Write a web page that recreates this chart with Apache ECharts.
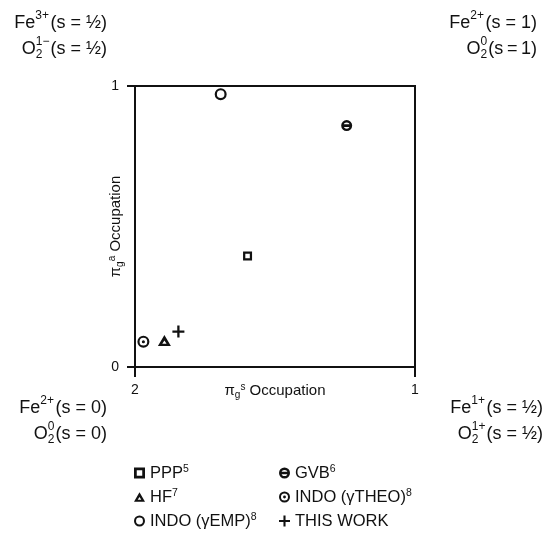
<!DOCTYPE html>
<html>
<head>
<meta charset="utf-8">
<script src="https://cdn.jsdelivr.net/npm/echarts@6/dist/echarts.min.js"></script>
<style>html,body{margin:0;padding:0;background:#fff}#c{width:545px;height:533px}</style>
</head>
<body>
<div id="c"></div>
<script>
// ---- data ----
const methods = ['PPP', 'GVB', 'HF', 'INDO (γTHEO)', 'INDO (γEMP)', 'THIS WORK'];
const refNums = ['5', '6', '7', '8', '8', ''];
const piS = [1.598, 1.244, 1.895, 1.970, 1.694, 1.845];   // πg s occupation (x)
const piA = [0.395, 0.859, 0.094, 0.090, 0.971, 0.126];   // πg a occupation (y)
const xTickValues = [2, 1];
const yTickValues = [0, 1];

// ---- styles ----
const FONT = '"Liberation Sans", Arial, Helvetica, sans-serif';
const INK = '#111';
const symbolPaths = {
  'PPP': 'path://M-10,-10L10,-10L10,10L-10,10Z M-5,-5L-5,5L5,5L5,-5Z',
  'GVB': 'path://M0,-10A10,10 0 1,1 0,10A10,10 0 1,1 0,-10Z M0,-5.6A5.6,5.6 0 1,0 0,5.6A5.6,5.6 0 1,0 0,-5.6Z M-5.8,-2.4L5.8,-2.4L5.8,2.4L-5.8,2.4Z',
  'HF': 'path://M0,-10L11,9L-11,9Z M0,-0.5L-3.6,5L3.6,5Z',
  'INDO (γTHEO)': 'path://M0,-10A10,10 0 1,1 0,10A10,10 0 1,1 0,-10Z M0,-6.4A6.4,6.4 0 1,0 0,6.4A6.4,6.4 0 1,0 0,-6.4Z M0,-2.6A2.6,2.6 0 1,1 0,2.6A2.6,2.6 0 1,1 0,-2.6Z',
  'INDO (γEMP)': 'path://M0,-10A10,10 0 1,1 0,10A10,10 0 1,1 0,-10Z M0,-6.3A6.3,6.3 0 1,0 0,6.3A6.3,6.3 0 1,0 0,-6.3Z',
  'THIS WORK': 'path://M-1.9,-10L1.9,-10L1.9,-1.9L10,-1.9L10,1.9L1.9,1.9L1.9,10L-1.9,10L-1.9,1.9L-10,1.9L-10,-1.9L-1.9,-1.9Z'
};
const symbolSizes = {
  'PPP': 9, 'GVB': 11, 'HF': [13, 11], 'INDO (γTHEO)': 12, 'INDO (γEMP)': 12, 'THIS WORK': 12
};

// ---- corner labels (stacked super/subscripts) ----
const mctx = document.createElement('canvas').getContext('2d');
function tw(t, s) { mctx.font = s + 'px ' + FONT; return mctx.measureText(t).width; }
function textLine(anchorX, cy, segs) {
  const widths = segs.map(sg => {
    const ts = Array.isArray(sg.t) ? sg.t : [sg.t];
    return Math.max.apply(null, ts.map(t => tw(t, sg.s))) + (sg.gap || 0);
  });
  const total = widths.reduce((a, b) => a + b, 0);
  let x = anchorX - total;
  const els = [];
  segs.forEach((sg, i) => {
    const ts = Array.isArray(sg.t) ? sg.t : [sg.t];
    const dys = Array.isArray(sg.dy) ? sg.dy : [sg.dy || 0];
    ts.forEach((t, j) => {
      els.push({
        type: 'text', x: x, y: cy + (dys[j] || 0), silent: true,
        style: { text: t, font: sg.s + 'px ' + FONT, fill: INK,
                 align: 'left', verticalAlign: 'middle', textAlign: 'left', textVerticalAlign: 'middle' }
      });
    });
    x += widths[i];
  });
  return els;
}
const B = 18, S = 12, UP = -7, DN = 6;
const cornerEls = [].concat(
  textLine(107, 23, [{t: 'Fe', s: B}, {t: '3+', s: S, dy: UP, gap: 1.5}, {t: '(s = ½)', s: B}]),
  textLine(107, 49, [{t: 'O', s: B}, {t: ['1−', '2'], s: S, dy: [UP, DN], gap: 1}, {t: '(s = ½)', s: B}]),
  textLine(537, 23, [{t: 'Fe', s: B}, {t: '2+', s: S, dy: UP, gap: 1.5}, {t: '(s = 1)', s: B}]),
  textLine(537, 49, [{t: 'O', s: B}, {t: ['0', '2'], s: S, dy: [UP, DN], gap: 1}, {t: '(s\u2009=\u20091)', s: B}]),
  textLine(107, 408, [{t: 'Fe', s: B}, {t: '2+', s: S, dy: UP, gap: 1.5}, {t: '(s = 0)', s: B}]),
  textLine(107, 434, [{t: 'O', s: B}, {t: ['0', '2'], s: S, dy: [UP, DN], gap: 1}, {t: '(s = 0)', s: B}]),
  textLine(543, 408, [{t: 'Fe', s: B}, {t: '1+', s: S, dy: UP, gap: 1.5}, {t: '(s = ½)', s: B}]),
  textLine(543, 434, [{t: 'O', s: B}, {t: ['1+', '2'], s: S, dy: [UP, DN], gap: 1}, {t: '(s = ½)', s: B}])
);

// ---- chart ----
const chart = echarts.init(document.getElementById('c'), null, {renderer: 'canvas'});
const series = methods.map((m, i) => ({
  name: m,
  type: 'scatter',
  data: [[piS[i], piA[i]]],
  symbol: symbolPaths[m],
  symbolSize: symbolSizes[m],
  itemStyle: {color: INK, opacity: 1},
  emphasis: {disabled: true},
  z: 5
}));
const nameRich = {
  pi: {fontSize: 15, fontFamily: FONT, color: INK},
  sub: {fontSize: 10, fontFamily: FONT, color: INK, verticalAlign: 'bottom', lineHeight: 10},
  sup: {fontSize: 10, fontFamily: FONT, color: INK, verticalAlign: 'top', lineHeight: 10}
};
const legendText = {
  fontSize: 16.5, fontFamily: FONT, color: INK, lineHeight: 18,
  rich: { sup: {fontSize: 10.5, fontFamily: FONT, color: INK, verticalAlign: 'top', lineHeight: 10} }
};
function legendFmt(name) {
  const r = refNums[methods.indexOf(name)];
  return r ? name + '{sup|' + r + '}' : name;
}
function legendData(list) {
  return list.map(m => ({name: m, icon: symbolPaths[m]}));
}
chart.setOption({
  animation: false,
  backgroundColor: '#fff',
  textStyle: {fontFamily: FONT},
  grid: {left: 135, top: 86, width: 280, height: 281, show: true, borderColor: INK, borderWidth: 2, backgroundColor: 'transparent'},
  xAxis: {
    type: 'value', min: 1, max: 2, interval: 1, inverse: true,
    name: '{pi|π}{sub|g}{sup|s} Occupation', nameLocation: 'middle', nameGap: 15, nameMoveOverlap: false,
    nameTextStyle: {fontSize: 15, fontFamily: FONT, color: INK, lineHeight: 18, rich: nameRich},
    axisLine: {show: true, lineStyle: {color: INK, width: 2}},
    axisTick: {show: true, inside: false, length: 10, lineStyle: {color: INK, width: 2}},
    axisLabel: {show: true, margin: 16, fontSize: 14, color: INK, fontFamily: FONT,
                formatter: v => (xTickValues.indexOf(v) >= 0 ? String(v) : '')},
    splitLine: {show: false}
  },
  yAxis: {
    type: 'value', min: 0, max: 1, interval: 1,
    name: '{pi|π}{sub|g}{sup|a} Occupation', nameLocation: 'middle', nameGap: 10, nameRotate: 90, nameMoveOverlap: false,
    nameTextStyle: {fontSize: 15, fontFamily: FONT, color: INK, lineHeight: 18, rich: nameRich},
    axisLine: {show: true, lineStyle: {color: INK, width: 2}},
    axisTick: {show: true, inside: false, length: 8, lineStyle: {color: INK, width: 2}},
    axisLabel: {show: true, margin: 16, fontSize: 14, color: INK, fontFamily: FONT,
                formatter: v => (yTickValues.indexOf(v) >= 0 ? String(v) : '')},
    splitLine: {show: false}
  },
  legend: [
    {data: legendData(['PPP', 'HF', 'INDO (γEMP)']), orient: 'vertical', left: 134, top: 464, padding: 0,
     itemWidth: 11, itemHeight: 11, itemGap: 6, selectedMode: false, formatter: legendFmt, textStyle: legendText},
    {data: legendData(['GVB', 'INDO (γTHEO)', 'THIS WORK']), orient: 'vertical', left: 279, top: 464, padding: 0,
     itemWidth: 11, itemHeight: 11, itemGap: 6, selectedMode: false, formatter: legendFmt, textStyle: legendText}
  ],
  graphic: cornerEls,
  series: series
});
</script>
</body>
</html>
